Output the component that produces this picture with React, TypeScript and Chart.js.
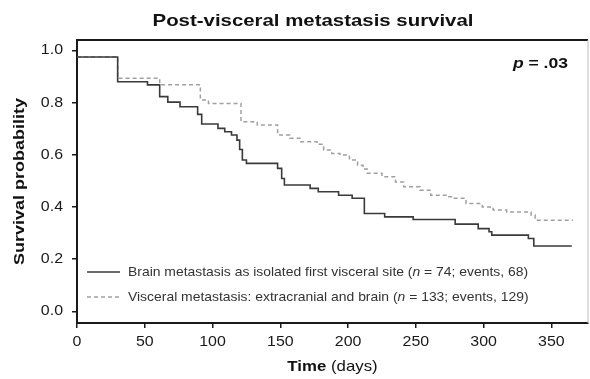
import React, { useEffect, useRef } from "react";
import { Chart, registerables } from "chart.js";

Chart.register(...registerables);

// ---- Data ----
const solidTimes = [0, 30, 52, 61, 67, 76, 89, 92, 104, 109, 114, 118, 120, 122, 125, 148, 151, 153, 172, 178, 193, 203, 212, 227, 248, 279, 296, 304, 306, 333, 337, 365];
const solidSurv = [0.975, 0.88, 0.868, 0.823, 0.802, 0.784, 0.755, 0.718, 0.701, 0.688, 0.676, 0.656, 0.62, 0.58, 0.567, 0.548, 0.509, 0.484, 0.471, 0.458, 0.445, 0.433, 0.375, 0.362, 0.352, 0.334, 0.317, 0.305, 0.292, 0.279, 0.25, 0.25];

const dashedTimes = [0, 30, 61, 91, 97, 121, 133, 148, 157, 165, 177, 182, 188, 194, 201, 207, 211, 214, 225, 235, 241, 253, 261, 273, 277, 287, 299, 307, 317, 335, 338, 366];
const dashedSurv = [0.975, 0.893, 0.868, 0.81, 0.797, 0.727, 0.714, 0.676, 0.663, 0.65, 0.64, 0.618, 0.605, 0.599, 0.58, 0.56, 0.545, 0.529, 0.516, 0.496, 0.477, 0.464, 0.445, 0.439, 0.433, 0.413, 0.4, 0.388, 0.381, 0.369, 0.349, 0.349];

const xTicks = [0, 50, 100, 150, 200, 250, 300, 350];
const yTicks = [0, 0.2, 0.4, 0.6, 0.8, 1.0];
const yTickLabels = ["0.0", "0.2", "0.4", "0.6", "0.8", "1.0"];

const titleText = "Post-visceral metastasis survival";
const yTitle = "Survival probability";
const pValue = ".03";
const legend1 = { name: "Brain metastasis as isolated first visceral site", n: "74", events: "68" };
const legend2 = { name: "Visceral metastasis: extracranial and brain", n: "133", events: "129" };

const FAMILY = '"Liberation Sans", Arial, Helvetica, sans-serif';

type Part = { t: string; w?: string; s?: string };

function drawParts(
  ctx: CanvasRenderingContext2D,
  parts: Part[],
  x: number,
  y: number,
  size: number,
  align: "left" | "center" | "right",
  sx: number,
  color: string,
  rotate = 0
) {
  ctx.save();
  ctx.translate(x, y);
  if (rotate) ctx.rotate(rotate);
  ctx.scale(sx, 1);
  const fonts = parts.map((p) => `${p.s || "normal"} ${p.w || "normal"} ${size}px ${FAMILY}`);
  const widths = parts.map((p, i) => {
    ctx.font = fonts[i];
    return ctx.measureText(p.t).width;
  });
  const total = widths.reduce((a, b) => a + b, 0);
  let cx = align === "center" ? -total / 2 : align === "right" ? -total : 0;
  ctx.textBaseline = "middle";
  ctx.textAlign = "left";
  ctx.fillStyle = color;
  parts.forEach((p, i) => {
    ctx.font = fonts[i];
    ctx.fillText(p.t, cx, 0);
    cx += widths[i];
  });
  ctx.restore();
}

const textPlugin = {
  id: "customText",
  afterDraw(chart: any) {
    const ctx: CanvasRenderingContext2D = chart.ctx;
    const area = chart.chartArea;
    const xs = chart.scales.x;
    const ys = chart.scales.y;

    // box: top and right
    ctx.save();
    ctx.strokeStyle = "#1a1a1a";
    ctx.lineWidth = 2;
    ctx.beginPath();
    ctx.moveTo(area.left, area.top);
    ctx.lineTo(area.right, area.top);
    ctx.stroke();
    ctx.strokeStyle = "#bdbdbd";
    ctx.lineWidth = 1;
    ctx.beginPath();
    ctx.moveTo(area.right, area.top);
    ctx.lineTo(area.right, area.bottom);
    ctx.stroke();
    ctx.restore();

    // title
    drawParts(ctx, [{ t: titleText, w: "bold" }], 313, 21, 17, "center", 1.2, "#111");

    // p value
    drawParts(ctx, [{ t: "p", w: "bold", s: "italic" }, { t: " = " + pValue, w: "bold" }], area.right - 20, 64, 15, "right", 1.17, "#111");

    // y tick labels
    yTicks.forEach((v, i) => {
      drawParts(ctx, [{ t: yTickLabels[i] }], area.left - 14, ys.getPixelForValue(v), 14.5, "right", 1.1, "#1a1a1a");
    });
    // x tick labels
    xTicks.forEach((v) => {
      drawParts(ctx, [{ t: String(v) }], xs.getPixelForValue(v), area.bottom + 19, 14.5, "center", 1.1, "#1a1a1a");
    });

    // axis titles
    drawParts(ctx, [{ t: "Time", w: "bold" }, { t: " (days)" }], (area.left + area.right) / 2, 367, 15, "center", 1.12, "#111");
    drawParts(ctx, [{ t: yTitle, w: "bold" }], 20, (area.top + area.bottom) / 2, 15, "center", 1.2, "#111", -Math.PI / 2);

    // legend
    const lx0 = area.left + 10;
    const lx1 = area.left + 43;
    const tx = area.left + 51;
    const rows = [
      { item: legend1, y: 272, color: "#3a3a3a", dash: [] as number[] },
      { item: legend2, y: 297, color: "#a0a0a0", dash: [4, 3] },
    ];
    rows.forEach((r) => {
      ctx.save();
      ctx.strokeStyle = r.color;
      ctx.lineWidth = 1.5;
      ctx.setLineDash(r.dash);
      ctx.beginPath();
      ctx.moveTo(lx0, r.y);
      ctx.lineTo(lx1, r.y);
      ctx.stroke();
      ctx.restore();
      drawParts(
        ctx,
        [
          { t: `${r.item.name} (` },
          { t: "n", s: "italic" },
          { t: ` = ${r.item.n}; events, ${r.item.events})` },
        ],
        tx,
        r.y,
        13,
        "left",
        1.07,
        "#333"
      );
    });
  },
};

export default function App() {
  const ref = useRef<HTMLCanvasElement | null>(null);
  useEffect(() => {
    if (!ref.current) return;
    const chart = new Chart(ref.current, {
      type: "line",
      data: {
        datasets: [
          {
            label: "Brain metastasis as isolated first visceral site",
            data: solidTimes.map((t, i) => ({ x: t, y: solidSurv[i] })),
            borderColor: "#3a3a3a",
            borderWidth: 1.6,
            pointRadius: 0,
            stepped: true,
            fill: false,
          },
          {
            label: "Visceral metastasis: extracranial and brain",
            data: dashedTimes.map((t, i) => ({ x: t, y: dashedSurv[i] })),
            borderColor: "#a0a0a0",
            borderWidth: 1.5,
            borderDash: [4, 3],
            pointRadius: 0,
            stepped: true,
            fill: false,
          },
        ],
      },
      options: {
        responsive: false,
        animation: false,
        events: [],
        layout: { padding: { top: 40, right: 2, left: 0, bottom: 0 } },
        plugins: { legend: { display: false }, tooltip: { enabled: false }, title: { display: false } },
        scales: {
          x: {
            type: "linear",
            min: 0,
            max: 377,
            afterBuildTicks: (axis: any) => {
              axis.ticks = xTicks.map((v) => ({ value: v }));
            },
            afterFit: (s: any) => {
              s.height = 56;
            },
            ticks: { display: false },
            grid: { display: true, drawOnChartArea: false, drawTicks: true, tickLength: 5, color: "#1a1a1a", lineWidth: 1.5 },
            border: { display: true, color: "#1a1a1a", width: 2 },
          },
          y: {
            type: "linear",
            min: -0.045,
            max: 1.04,
            afterBuildTicks: (axis: any) => {
              axis.ticks = yTicks.map((v) => ({ value: v }));
            },
            afterFit: (s: any) => {
              s.width = 77;
            },
            ticks: { display: false },
            grid: { display: true, drawOnChartArea: false, drawTicks: true, tickLength: 5, color: "#1a1a1a", lineWidth: 1.5 },
            border: { display: true, color: "#1a1a1a", width: 2 },
          },
        },
      },
      plugins: [textPlugin],
    });
    return () => chart.destroy();
  }, []);
  return (
    <div style={{ position: "absolute", left: 0, top: 0, width: 590, height: 379, background: "#fff" }}>
      <canvas ref={ref} width={590} height={379} style={{ display: "block" }} />
    </div>
  );
}
